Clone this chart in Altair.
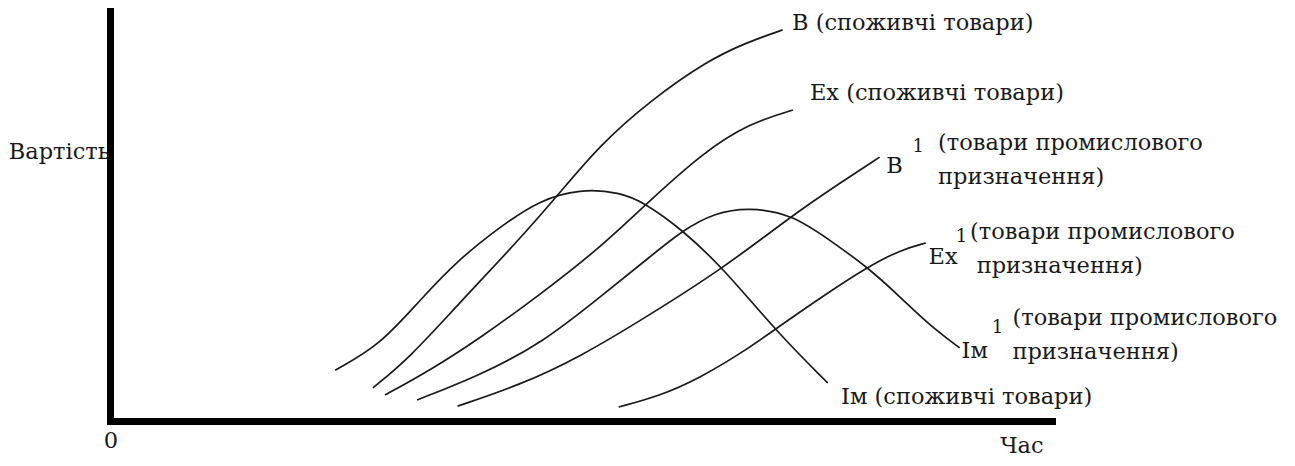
import altair as alt
import pandas as pd

# ---- curve points (time 0-100, value 0-100) ----
im_t = [23.9, 28.7, 32.9, 37.2, 41.4, 45.6, 49.9, 54.1, 56.8, 60.8, 65.1, 70.8, 76.2]
im_v = [12.3, 18.4, 29.3, 39.5, 47.0, 53.5, 56.2, 55.4, 52.8, 46.2, 37.0, 21.5, 9.2]

b_t = [27.9, 31.8, 36.9, 43.6, 47.8, 52.0, 57.3, 63.4, 67.4, 71.4]
b_v = [8.0, 15.3, 28.1, 44.3, 55.4, 66.8, 77.5, 87.2, 91.5, 94.7]

ex_t = [29.2, 34.0, 39.3, 45.6, 52.0, 56.8, 63.0, 67.9, 72.5]
ex_v = [6.3, 12.3, 20.1, 30.5, 41.9, 52.3, 65.1, 72.1, 75.3]

im1_t = [32.6, 39.3, 45.9, 52.0, 57.3, 60.8, 64.2, 67.9, 72.5, 76.4, 80.4, 83.9, 87.0, 90.2]
im1_v = [5.1, 11.1, 18.9, 30.0, 39.7, 46.2, 50.4, 51.8, 49.9, 43.8, 37.3, 30.0, 23.2, 17.7]

b1_t = [36.9, 43.5, 49.9, 57.3, 65.1, 72.5, 77.5, 81.7]
b1_v = [3.6, 8.7, 15.5, 25.7, 37.0, 49.9, 57.6, 63.9]

ex1_t = [54.0, 58.4, 62.6, 67.2, 70.8, 75.4, 80.4, 83.9, 86.6]
ex1_v = [3.4, 6.1, 10.4, 16.7, 22.5, 29.8, 37.3, 41.4, 43.1]

series = [("Im", im_t, im_v), ("B", b_t, b_v), ("Ex", ex_t, ex_v),
          ("Im1", im1_t, im1_v), ("B1", b1_t, b1_v), ("Ex1", ex1_t, ex1_v)]

rows = []
for name, ts, vs in series:
    for t, v in zip(ts, vs):
        rows.append({"series": name, "t": t, "v": v})
curves = pd.DataFrame(rows)

# ---- text labels ----
label_text = ["В (споживчі товари)", "Ex (споживчі товари)",
              "В", "(товари промислового", "призначення)",
              "Ex", "(товари промислового", "призначення)",
              "Iм", "(товари промислового", "призначення)",
              "Iм (споживчі товари)", "Час"]
label_t = [72.4, 74.3, 82.4, 87.9, 87.9, 86.9, 91.3, 92.0, 90.4, 95.8, 95.8, 77.6, 94.5]
label_v = [96.4, 79.4, 61.7, 67.3, 59.1, 39.7, 45.8, 37.5, 16.9, 24.9, 16.7, 5.8, -6.1]
labels = pd.DataFrame({"text": label_text, "t": label_t, "v": label_v})

sup_text = ["1", "1", "1"]
sup_t = [85.8, 90.4, 94.2]
sup_v = [66.3, 44.6, 22.5]
sups = pd.DataFrame({"text": sup_text, "t": sup_t, "v": sup_v})

y_title = pd.DataFrame({"text": ["Вартість"], "t": [0.0], "v": [65.1]})
origin = pd.DataFrame({"text": ["0"], "t": [0.1], "v": [-4.8]})

FONT = "DejaVu Serif"
INK = "#1a1a1a"

xs = alt.Scale(domain=[0, 100], nice=False, zero=False)
ys = alt.Scale(domain=[0, 100], nice=False, zero=False)
axis_style = dict(title=None, labels=False, ticks=False, grid=False,
                  domainColor="black", domainWidth=7, domainCap="square")

lines = alt.Chart(curves).mark_line(
    interpolate="basis", color=INK, strokeWidth=1.7
).encode(
    x=alt.X("t:Q", scale=xs, axis=alt.Axis(**axis_style)),
    y=alt.Y("v:Q", scale=ys, axis=alt.Axis(**axis_style)),
    detail="series:N",
)

def text_layer(df, size, align):
    return alt.Chart(df).mark_text(
        font=FONT, fontSize=size, color=INK, align=align, baseline="middle"
    ).encode(
        x=alt.X("t:Q", scale=xs), y=alt.Y("v:Q", scale=ys), text="text:N"
    )

chart = alt.layer(
    lines,
    text_layer(labels, 22.5, "left"),
    text_layer(sups, 18, "center"),
    text_layer(y_title, 22.5, "right"),
    text_layer(origin, 22.5, "center"),
).properties(
    width=942, height=413,
    autosize="none",
    padding={"left": 102, "top": 0, "right": 235, "bottom": 37},
).configure_view(stroke=None)

chart.save("out.html", embed_options={"renderer": "svg", "actions": False})
